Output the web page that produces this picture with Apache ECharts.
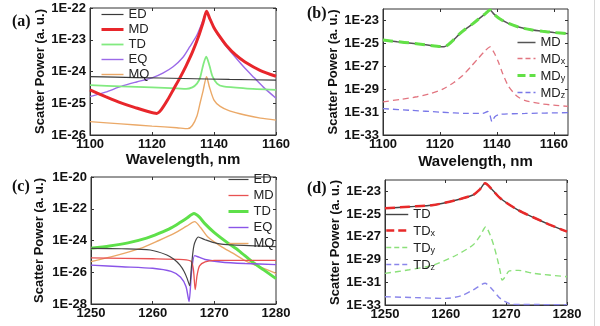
<!DOCTYPE html>
<html>
<head>
<meta charset="utf-8">
<script src="https://cdn.jsdelivr.net/npm/echarts@6/dist/echarts.min.js"></script>
<style>
  html, body { margin: 0; padding: 0; background: #fff; }
  #chart { width: 600px; height: 326px; }
</style>
</head>
<body>
<div id="chart"></div>
<script>
// Scattered power of each multipole, stored as log10(P) against wavelength (nm).

// (a) total multipoles around the 1137 nm resonance
const aED = [[1100,-24.16],[1115,-24.19],[1130,-24.22],[1145,-24.25],[1160,-24.27]];
const aMD = [[1100,-24.58],[1105,-24.79],[1110,-24.99],[1115,-25.15],[1119,-25.27],[1121.5,-25.32],[1123,-25.2],[1125,-24.9],[1127,-24.55],[1129,-24.2],[1131,-23.82],[1133,-23.4],[1135,-22.9],[1136.5,-22.45],[1137.6,-22.1],[1138.5,-22.3],[1140,-22.62],[1142,-22.92],[1144,-23.18],[1147,-23.48],[1150,-23.7],[1155,-23.97],[1160,-24.15]];
const aTD = [[1100,-24.43],[1110,-24.47],[1120,-24.5],[1128,-24.53],[1131,-24.55],[1133,-24.5],[1134.5,-24.38],[1135.5,-24.2],[1136.5,-23.8],[1137.5,-23.53],[1138.5,-23.8],[1139.5,-24.15],[1141,-24.38],[1143,-24.47],[1150,-24.53],[1160,-24.58]];
const aEQ = [[1100,-24.79],[1105,-24.65],[1110,-24.47],[1115,-24.33],[1120,-24.2],[1123.5,-24.05],[1126.8,-23.85],[1130,-23.55],[1132.2,-23.22],[1134.5,-22.85],[1136.5,-22.38],[1137.6,-22.12],[1138.8,-22.35],[1141,-22.8],[1143.5,-23.15],[1146,-23.45],[1150,-23.9],[1153,-24.2],[1156,-24.5],[1160,-24.84]];
const aMQ = [[1100,-25.58],[1110,-25.65],[1120,-25.72],[1128,-25.77],[1131.5,-25.8],[1133,-25.7],[1134.5,-25.4],[1135.5,-25.0],[1136.5,-24.6],[1137.6,-24.16],[1138.5,-24.48],[1140,-24.9],[1142,-25.1],[1145,-25.24],[1150,-25.37],[1155,-25.47],[1160,-25.53]];

// (b) Cartesian components of the magnetic dipole
const bMD = [[1100,-24.71],[1105,-24.85],[1110,-24.98],[1115,-25.12],[1119,-25.25],[1121.5,-25.3],[1123,-25.1],[1125,-24.65],[1127,-24.15],[1129,-23.75],[1131.5,-23.3],[1134,-22.8],[1136,-22.4],[1137.6,-22.08],[1139,-22.45],[1141,-22.85],[1144,-23.25],[1148,-23.6],[1152,-23.82],[1156,-23.95],[1160,-24.05],[1165,-24.15]];
const bMDx = [[1100,-30.1],[1106,-29.9],[1112,-29.66],[1117,-29.35],[1121,-29.0],[1125,-28.4],[1128,-27.8],[1131,-27.0],[1133.5,-26.3],[1135.5,-25.75],[1137.6,-25.3],[1139,-25.8],[1140.5,-26.6],[1142,-27.6],[1144,-28.7],[1147,-29.6],[1150,-30.0],[1155,-30.25],[1160,-30.4],[1165,-30.5]];
const bMDy = [[1100,-24.71],[1105,-24.85],[1110,-24.98],[1115,-25.12],[1119,-25.25],[1121.5,-25.3],[1123,-25.1],[1125,-24.65],[1127,-24.15],[1129,-23.75],[1131.5,-23.3],[1134,-22.8],[1136,-22.4],[1137.6,-22.08],[1139,-22.45],[1141,-22.85],[1144,-23.25],[1148,-23.6],[1152,-23.82],[1156,-23.95],[1160,-24.05],[1165,-24.15]];
const bMDz = [[1100,-30.7],[1110,-30.85],[1120,-31.0],[1130,-31.12],[1135,-31.12],[1136.8,-30.95],[1137.6,-31.3],[1138.3,-31.85],[1139.3,-31.4],[1141,-31.2],[1150,-31.12],[1165,-31.05]];

// (c) total multipoles around the 1267 nm resonance
const cED = [[1250,-24.49],[1255,-24.52],[1259.6,-24.6],[1262.3,-24.91],[1263.5,-25.2],[1264.4,-25.54],[1265.1,-25.95],[1265.6,-26.4],[1266.0,-26.85],[1266.3,-25.6],[1266.7,-24.3],[1267.4,-23.78],[1268.5,-23.95],[1270.4,-24.18],[1273,-24.28],[1280,-24.39]];
const cMD = [[1250,-25.1],[1260,-25.15],[1265,-25.2],[1266.2,-25.3],[1266.6,-25.8],[1266.9,-27.1],[1267.2,-26.2],[1267.6,-25.6],[1268.5,-25.35],[1270,-25.25],[1280,-25.25]];
const cTD = [[1250,-24.49],[1253,-24.35],[1256,-24.15],[1259,-23.85],[1261,-23.55],[1263,-23.2],[1264.5,-22.85],[1265.5,-22.6],[1266.7,-22.3],[1267.5,-22.5],[1268.5,-22.95],[1270,-23.5],[1272,-24.1],[1274,-24.65],[1276,-25.3],[1278,-25.85],[1280,-26.4]];
const cEQ = [[1250,-25.55],[1255,-25.65],[1260,-25.75],[1263,-25.95],[1264.5,-26.3],[1265.4,-26.9],[1265.9,-27.85],[1266.3,-26.0],[1266.8,-24.95],[1267.5,-25.05],[1268.5,-25.2],[1271,-25.35],[1275,-25.45],[1280,-25.52]];
const cMQ = [[1250,-25.33],[1254,-24.95],[1258,-24.5],[1261,-24.0],[1263.5,-23.55],[1265.5,-23.1],[1266.8,-22.81],[1267.8,-23.2],[1269,-23.8],[1271,-24.35],[1273,-24.8],[1275.3,-25.33],[1278,-25.75],[1280,-26.07]];

// (d) Cartesian components of the toroidal dipole
const dTD = [[1250,-24.49],[1254,-24.35],[1258,-24.2],[1261.8,-23.76],[1264.5,-23.32],[1265.6,-22.85],[1266.5,-22.29],[1267.5,-22.75],[1269,-23.61],[1271.8,-24.6],[1274.5,-25.3],[1277,-25.9],[1280,-26.55]];
const dTDx = [[1250,-24.49],[1254,-24.35],[1258,-24.2],[1261.8,-23.76],[1264.5,-23.32],[1265.6,-22.85],[1266.5,-22.29],[1267.5,-22.75],[1269,-23.61],[1271.8,-24.6],[1274.5,-25.3],[1277,-25.9],[1280,-26.55]];
const dTDy = [[1250,-30.22],[1254,-29.9],[1258,-29.48],[1261.8,-28.6],[1264.5,-27.72],[1265.7,-26.9],[1266.6,-26.11],[1267.3,-26.8],[1267.9,-27.72],[1268.5,-28.9],[1269,-30.07],[1269.3,-30.8],[1269.7,-30.6],[1270.5,-30.0],[1272,-29.95],[1274.5,-30.22],[1280,-30.51]];
const dTDz = [[1250,-32.27],[1255,-32.35],[1260,-32.42],[1262.5,-32.2],[1264.5,-31.68],[1266.5,-31.09],[1267.8,-31.7],[1269,-32.42],[1271,-32.94],[1275,-32.96],[1280,-32.97]];

// Tick positions (wavelength in nm, power as decade exponent)
const xTicksAB = [1100, 1120, 1140, 1160];
const xTicksCD = [1250, 1260, 1270, 1280];
const yTicksA = [-26, -25, -24, -23, -22];
const yTicksB = [-33, -31, -29, -27, -25, -23];
const yTicksC = [-28, -26, -24, -22, -20];
const yTicksD = [-33, -31, -29, -27, -25, -23];

const SANS = 'Liberation Sans';
const INK = '#333';

const grids = [
  { left: 90,  top: 8,   width: 186, height: 127 },
  { left: 383, top: 9,   width: 185, height: 126 },
  { left: 91,  top: 177, width: 185, height: 127 },
  { left: 385, top: 180, width: 182, height: 125 }
].map(g => Object.assign({ show: true, borderColor: INK, borderWidth: 1, backgroundColor: 'transparent', containLabel: false, outerBoundsMode: 'none' }, g));

function xAxis(i, min, max, ticks, name, nameGap) {
  return {
    gridIndex: i, type: 'value', min, max, position: 'bottom',
    axisLine: { show: true, lineStyle: { color: INK, width: 1 } },
    axisTick: { show: true, inside: true, length: 3, customValues: ticks, lineStyle: { color: INK } },
    axisLabel: { customValues: ticks, margin: 3, color: '#111', fontFamily: SANS, fontWeight: 'bold', fontSize: 13,
                 formatter: v => String(v) },
    splitLine: { show: false },
    name: name, nameLocation: 'middle', nameGap: nameGap,
    nameTextStyle: { color: '#111', fontFamily: SANS, fontWeight: 'bold', fontSize: 15 }
  };
}
function xAxisTop(i, min, max, ticks) {
  return {
    gridIndex: i, type: 'value', min, max, position: 'top',
    axisLine: { show: false },
    axisTick: { show: true, inside: true, length: 3, customValues: ticks, lineStyle: { color: INK } },
    axisLabel: { show: false }, splitLine: { show: false }
  };
}
function yAxis(i, min, max, ticks, nameGap) {
  return {
    gridIndex: i, type: 'value', min, max, position: 'left',
    axisLine: { show: true, lineStyle: { color: INK, width: 1 } },
    axisTick: { show: true, inside: true, length: 3, customValues: ticks, lineStyle: { color: INK } },
    axisLabel: { customValues: ticks, margin: 4, color: '#111', fontFamily: SANS, fontWeight: 'bold', fontSize: 13,
                 formatter: v => '1E' + v },
    splitLine: { show: false },
    name: 'Scatter Power (a. u.)', nameLocation: 'middle', nameRotate: 90, nameGap: nameGap,
    nameTextStyle: { color: '#111', fontFamily: SANS, fontWeight: 'bold', fontSize: 13 }
  };
}
function yAxisRight(i, min, max, ticks) {
  return {
    gridIndex: i, type: 'value', min, max, position: 'right',
    axisLine: { show: false },
    axisTick: { show: true, inside: true, length: 3, customValues: ticks, lineStyle: { color: INK } },
    axisLabel: { show: false }, splitLine: { show: false }
  };
}

function line(name, panel, data, color, width, dash, z) {
  return {
    name: name, type: 'line', xAxisIndex: panel, yAxisIndex: panel, data: data,
    symbol: 'none', showSymbol: false, smooth: 0.25, clip: true, z: z || 2,
    lineStyle: { color: color, width: width, type: dash || 'solid' },
    itemStyle: { color: color }
  };
}

const C = {
  aED: '#3a3a3a', aMD: '#e8262b', aTD: '#82ea80', aEQ: '#9b6ae8', aMQ: '#eba968',
  bMD: '#555555', bMDx: '#e27580', bMDy: '#62e046', bMDz: '#7a78e8',
  cED: '#444444', cMD: '#e85252', cTD: '#5ee04a', cEQ: '#8a55e8', cMQ: '#eaa868',
  dTD: '#444444', dTDx: '#e82a2a', dTDy: '#8be07a', dTDz: '#8a86ea'
};

const series = [
  line('a|EQ', 0, aEQ, C.aEQ, 1.4),
  line('a|MQ', 0, aMQ, C.aMQ, 1.4),
  line('a|TD', 0, aTD, C.aTD, 1.8),
  line('a|MD', 0, aMD, C.aMD, 3),
  line('a|ED', 0, aED, C.aED, 1.2, 'solid', 3),

  line('b|MD', 1, bMD, C.bMD, 1.5),
  line('b|MDx', 1, bMDx, C.bMDx, 1.3, [6, 4]),
  line('b|MDy', 1, bMDy, C.bMDy, 3, [10, 6], 3),
  line('b|MDz', 1, bMDz, C.bMDz, 1.3, [6, 4]),

  line('c|MQ', 2, cMQ, C.cMQ, 1.4),
  line('c|TD', 2, cTD, C.cTD, 3),
  line('c|EQ', 2, cEQ, C.cEQ, 1.4),
  line('c|MD', 2, cMD, C.cMD, 1.3),
  line('c|ED', 2, cED, C.cED, 1.2, 'solid', 3),

  line('d|TD', 3, dTD, C.dTD, 1.4),
  line('d|TDx', 3, dTDx, C.dTDx, 2.5, [10, 5], 3),
  line('d|TDy', 3, dTDy, C.dTDy, 1.4, [6, 4]),
  line('d|TDz', 3, dTDz, C.dTDz, 1.4, [6, 4])
];

// legend keys are plain line samples: the marker dot is hidden
function legendItem(name, width, dash) {
  return { name: name, lineStyle: { width: width, type: dash || 'solid' }, itemStyle: { opacity: 0 } };
}
const legendText = {
  fontFamily: SANS, fontSize: 13, color: '#222', lineHeight: 13,
  rich: {
    n: { fontFamily: SANS, fontSize: 13, color: '#222', lineHeight: 15, verticalAlign: 'bottom' },
    s: { fontFamily: SANS, fontSize: 9, color: '#222', lineHeight: 9, verticalAlign: 'bottom' }
  }
};
function legendLabel(name) {
  const t = name.split('|')[1];
  if (t.length === 3) return '{n|' + t.slice(0, 2) + '}{s|' + t[2] + '}';
  return t;
}
function legend(left, top, itemWidth, gap, items) {
  return {
    orient: 'vertical', left: left, top: top, padding: 0,
    itemWidth: itemWidth, itemHeight: 10, itemGap: gap,
    selectedMode: false, formatter: legendLabel, textStyle: legendText,
    itemStyle: { opacity: 0 },
    data: items
  };
}

const option = {
  animation: false,
  backgroundColor: '#fff',
  grid: grids,
  xAxis: [
    xAxis(0, 1100, 1160, xTicksAB, 'Wavelength, nm', 16),
    xAxis(1, 1100, 1165, xTicksAB, 'Wavelength, nm', 19),
    xAxis(2, 1250, 1280, xTicksCD, '', 20),
    xAxis(3, 1250, 1280, xTicksCD, '', 20),
    xAxisTop(0, 1100, 1160, xTicksAB),
    xAxisTop(1, 1100, 1165, xTicksAB),
    xAxisTop(2, 1250, 1280, xTicksCD),
    xAxisTop(3, 1250, 1280, xTicksCD)
  ],
  yAxis: [
    yAxis(0, -26, -22, yTicksA, 43),
    yAxis(1, -33, -22, yTicksB, 40),
    yAxis(2, -28, -20, yTicksC, 45),
    yAxis(3, -33, -22, yTicksD, 42),
    yAxisRight(0, -26, -22, yTicksA),
    yAxisRight(1, -33, -22, yTicksB),
    yAxisRight(2, -28, -20, yTicksC),
    yAxisRight(3, -33, -22, yTicksD)
  ],
  legend: [
    legend(100, 8, 22, 2, [legendItem('a|ED', 1.2), legendItem('a|MD', 3), legendItem('a|TD', 1.8), legendItem('a|EQ', 1.4), legendItem('a|MQ', 1.4)]),
    legend(516, 36, 18, 2, [legendItem('b|MD', 1.5), legendItem('b|MDx', 1.3, [5, 3]), legendItem('b|MDy', 3, [8, 4]), legendItem('b|MDz', 1.3, [5, 3])]),
    legend(227, 173, 20, 3, [legendItem('c|ED', 1.2), legendItem('c|MD', 1.3), legendItem('c|TD', 3), legendItem('c|EQ', 1.4), legendItem('c|MQ', 1.4)]),
    legend(385, 208, 22, 2, [legendItem('d|TD', 1.4), legendItem('d|TDx', 2.5, [8, 4]), legendItem('d|TDy', 1.4, [5, 3]), legendItem('d|TDz', 1.4, [5, 3])])
  ],
  title: [
    { text: '(a)', left: 12, top: 14 },
    { text: '(b)', left: 307, top: 6 },
    { text: '(c)', left: 12, top: 179 },
    { text: '(d)', left: 307, top: 181 }
  ].map(t => Object.assign({ padding: 0, textStyle: { fontFamily: 'Liberation Serif', fontWeight: 'bold', fontSize: 16, color: '#111' } }, t)),
  graphic: [
    { type: 'line', shape: { x1: 594.5, y1: 0, x2: 594.5, y2: 326 }, style: { stroke: '#d8d8d8', lineWidth: 1 }, silent: true }
  ],
  series: series
};

const chart = echarts.init(document.getElementById('chart'), null, { renderer: 'canvas' });
chart.setOption(option);
</script>
</body>
</html>
